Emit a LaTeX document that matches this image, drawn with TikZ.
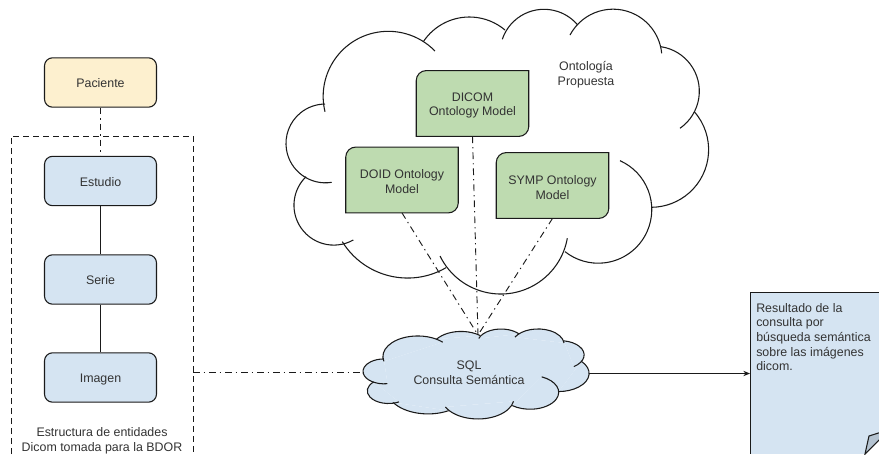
\documentclass[tikz,border=0pt]{standalone}
\usepackage{fontspec}
\setmainfont{Liberation Sans}
\usetikzlibrary{backgrounds,arrows.meta}
\definecolor{ink}{HTML}{1A1A1A}
\definecolor{txt}{HTML}{333333}
\definecolor{paleblue}{HTML}{D5E4F2}
\definecolor{paleyellow}{HTML}{FDF0CF}
\definecolor{palegreen}{HTML}{BEDBB0}
\definecolor{foldgrey}{HTML}{B4C3D1}
\tikzset{
  label text/.style={text=txt,font=\fontsize{9.3pt}{11pt}\selectfont,align=center},
  entitybox/.style={text=txt,font=\fontsize{9.3pt}{11pt}\selectfont,text height=9.5pt,text depth=2pt,draw=ink,line width=0.8pt,rounded corners=6pt,minimum width=84pt,minimum height=37pt,inner sep=0pt},
  bluebox/.style={entitybox,fill=paleblue},
  yellowbox/.style={entitybox,fill=paleyellow},
  greenlabel/.style={label text,minimum width=84pt,minimum height=49pt,inner sep=0pt},
  greenbg/.style={draw=ink,line width=0.8pt,fill=palegreen},
  dashdot/.style={draw=ink,line width=0.7pt,dash pattern=on 5pt off 3pt on 1pt off 3pt},
  cloudline/.style={draw=ink,line width=0.8pt},
  solidlink/.style={draw=ink,line width=0.7pt},
  framebox/.style={draw=ink,line width=0.7pt,dash pattern=on 4.5pt off 3pt},
}
\newcommand\greenshape[1]{%
  \draw[greenbg] ([xshift=7.5pt]#1.north west) -- (#1.north east) -- ([yshift=7.5pt]#1.south east)
    arc[start angle=0,end angle=-90,radius=7.5pt] -- (#1.south west) -- ([yshift=-7.5pt]#1.north west)
    arc[start angle=180,end angle=90,radius=7.5pt] -- cycle;}
\newcommand\firstline{\rule{0pt}{9.4pt}}
% one lobe of a cloud: the circular arc from S through M to E, running clockwise on screen
\newcommand\lobe[7][white]{%
  \pgfmathsetmacro\lobeAx{(#2-#4)/100}%
  \pgfmathsetmacro\lobeAy{(#3-#5)/100}%
  \pgfmathsetmacro\lobeBx{(#6-#4)/100}%
  \pgfmathsetmacro\lobeBy{(#7-#5)/100}%
  \pgfmathsetmacro\lobeA{\lobeAx*\lobeAx+\lobeAy*\lobeAy}%
  \pgfmathsetmacro\lobeB{\lobeBx*\lobeBx+\lobeBy*\lobeBy}%
  \pgfmathsetmacro\lobeD{2*(\lobeAx*\lobeBy-\lobeAy*\lobeBx)}%
  \pgfmathsetmacro\lobeUx{(\lobeBy*\lobeA-\lobeAy*\lobeB)/\lobeD}%
  \pgfmathsetmacro\lobeUy{(\lobeAx*\lobeB-\lobeBx*\lobeA)/\lobeD}%
  \pgfmathsetmacro\lobeR{75*sqrt(\lobeUx*\lobeUx+\lobeUy*\lobeUy)}%
  \pgfmathsetmacro\lobeTa{atan2(\lobeUy-\lobeAy,\lobeAx-\lobeUx)}%
  \pgfmathsetmacro\lobeTb{atan2(\lobeUy-\lobeBy,\lobeBx-\lobeUx)}%
  \pgfmathsetmacro\lobeTb{\lobeTb>\lobeTa?\lobeTb-360:\lobeTb}%
  \begin{scope}[on background layer]
    \fill[#1] (#2,#3) arc[start angle=\lobeTa,end angle=\lobeTb,radius=\lobeR pt] -- cycle;
  \end{scope}
  \draw[cloudline] (#2,#3) arc[start angle=\lobeTa,end angle=\lobeTb,radius=\lobeR pt];
}
\newcommand\cloudshape[1]{%
\lobe[#1]{325}{111.7}{336.7}{56.7}{435}{51}
\lobe[#1]{423.3}{41.7}{470}{17}{505}{30}
\lobe[#1]{502.3}{39.3}{543}{9.3}{577.7}{25}
\lobe[#1]{570}{35}{616.7}{9.3}{661.7}{53.3}
\lobe[#1]{661}{46.7}{699.3}{90}{680}{128.3}
\lobe[#1]{694.3}{111.7}{708.5}{146}{651.7}{207.3}
\lobe[#1]{620}{160.7}{651.7}{206.7}{565}{251.7}
\lobe[#1]{567.3}{238.3}{500}{294}{440}{256}
\lobe[#1]{446}{267.7}{393.3}{276.7}{342.3}{241.7}
\lobe[#1]{353.3}{240}{294}{203.3}{306}{176.7}
\lobe[#1]{331.7}{182.3}{286}{145}{325}{104}
}
\begin{document}
\begin{tikzpicture}[x=0.75pt,y=-0.75pt]
\useasboundingbox (0,0) rectangle (879,454);
% big cloud
\cloudshape{white}
\node[label text] (onto) at (586,75) {Ontología\\Propuesta};
% blue cloud: the same outline, squeezed
\begin{scope}[shift={(210,326.06)},xscale=0.535,yscale=0.316]
\begin{scope}[on background layer]
\fill[paleblue] (325,111.7) -- (435,51) -- (423.3,41.7) -- (505,30) -- (502.3,39.3) -- (577.7,25) -- (570,35) -- (661.7,53.3) -- (661,46.7) -- (680,128.3) -- (694.3,111.7) -- (651.7,207.3) -- (620,160.7) -- (565,251.7) -- (567.3,238.3) -- (440,256) -- (446,267.7) -- (342.3,241.7) -- (353.3,240) -- (306,176.7) -- (331.7,182.3) -- (325,104) -- cycle;
\end{scope}
\cloudshape{paleblue}
\end{scope}
\node[label text] (sql) at (469,372.5) {SQL\\Consulta Semántica};
\coordinate (sqltop) at (478,335);
\coordinate (sqlleft) at (363,372.5);
\coordinate (sqlright) at (589,373.5);
% entity boxes
\node[yellowbox] (paciente) at (100.5,82.5) {Paciente};
\node[bluebox] (estudio) at (100.5,181) {Estudio};
\node[bluebox] (serie) at (100.5,279.5) {Serie};
\node[bluebox] (imagen) at (100.5,377.5) {Imagen};
\node[label text] (caption) at (102,440.5) {Estructura de entidades\\Dicom tomada para la BDOR};
% frame
\coordinate (frameA) at (11,454);
\coordinate (frameB) at (11,136);
\coordinate (frameC) at (193,136);
\coordinate (frameD) at (193,454);
\coordinate (frameout) at (193,372.5);
\draw[framebox] (frameA) -- (frameB) -- (frameC) -- (frameD);
% green boxes
\node[greenlabel] (dicom) at (472.5,103.5) {\firstline DICOM\\Ontology Model};
\node[greenlabel] (doid) at (402,180) {\firstline DOID Ontology\\Model};
\node[greenlabel] (symp) at (552.5,185.5) {\firstline SYMP Ontology\\Model};
\begin{scope}[on background layer]
\greenshape{dicom}
\greenshape{doid}
\greenshape{symp}
\end{scope}
% document
\coordinate (docNW) at (750,292.5);
\coordinate (docSW) at (750,453.5);
\coordinate (docW) at (750,373.5);
\fill[paleblue] (docSW) -- (docNW) -- (880,292.5) -- (880,453.5) -- cycle;
\draw[line width=0.7pt,draw=ink] (docSW) -- (docNW) -- (880,292.5);
\fill[white] (865.5,454) -- (879,439) -- (879,454) -- cycle;
\draw[line width=0.8pt,draw=ink,fill=foldgrey] (865,454) -- (869,436) -- (880,432.5) -- (880,439) -- cycle;
\node[label text,align=left,anchor=north west,inner sep=0pt] (result) at (756,303) {Resultado de la\\consulta por\\búsqueda semántica\\sobre las imágenes\\dicom.};
% connectors
\draw[dashdot] (paciente) -- (estudio);
\draw[solidlink] (estudio) -- (serie);
\draw[solidlink] (serie) -- (imagen);
\draw[dashdot] (frameout) -- (sqlleft);
\draw[dashdot] (doid.south) -- (sqltop);
\draw[dashdot] (dicom.south) -- (sqltop);
\draw[dashdot] (symp.south) -- (sqltop);
\draw[solidlink,-{Stealth[length=5pt,width=4pt]}] (sqlright) -- (docW);
\end{tikzpicture}
\end{document}
